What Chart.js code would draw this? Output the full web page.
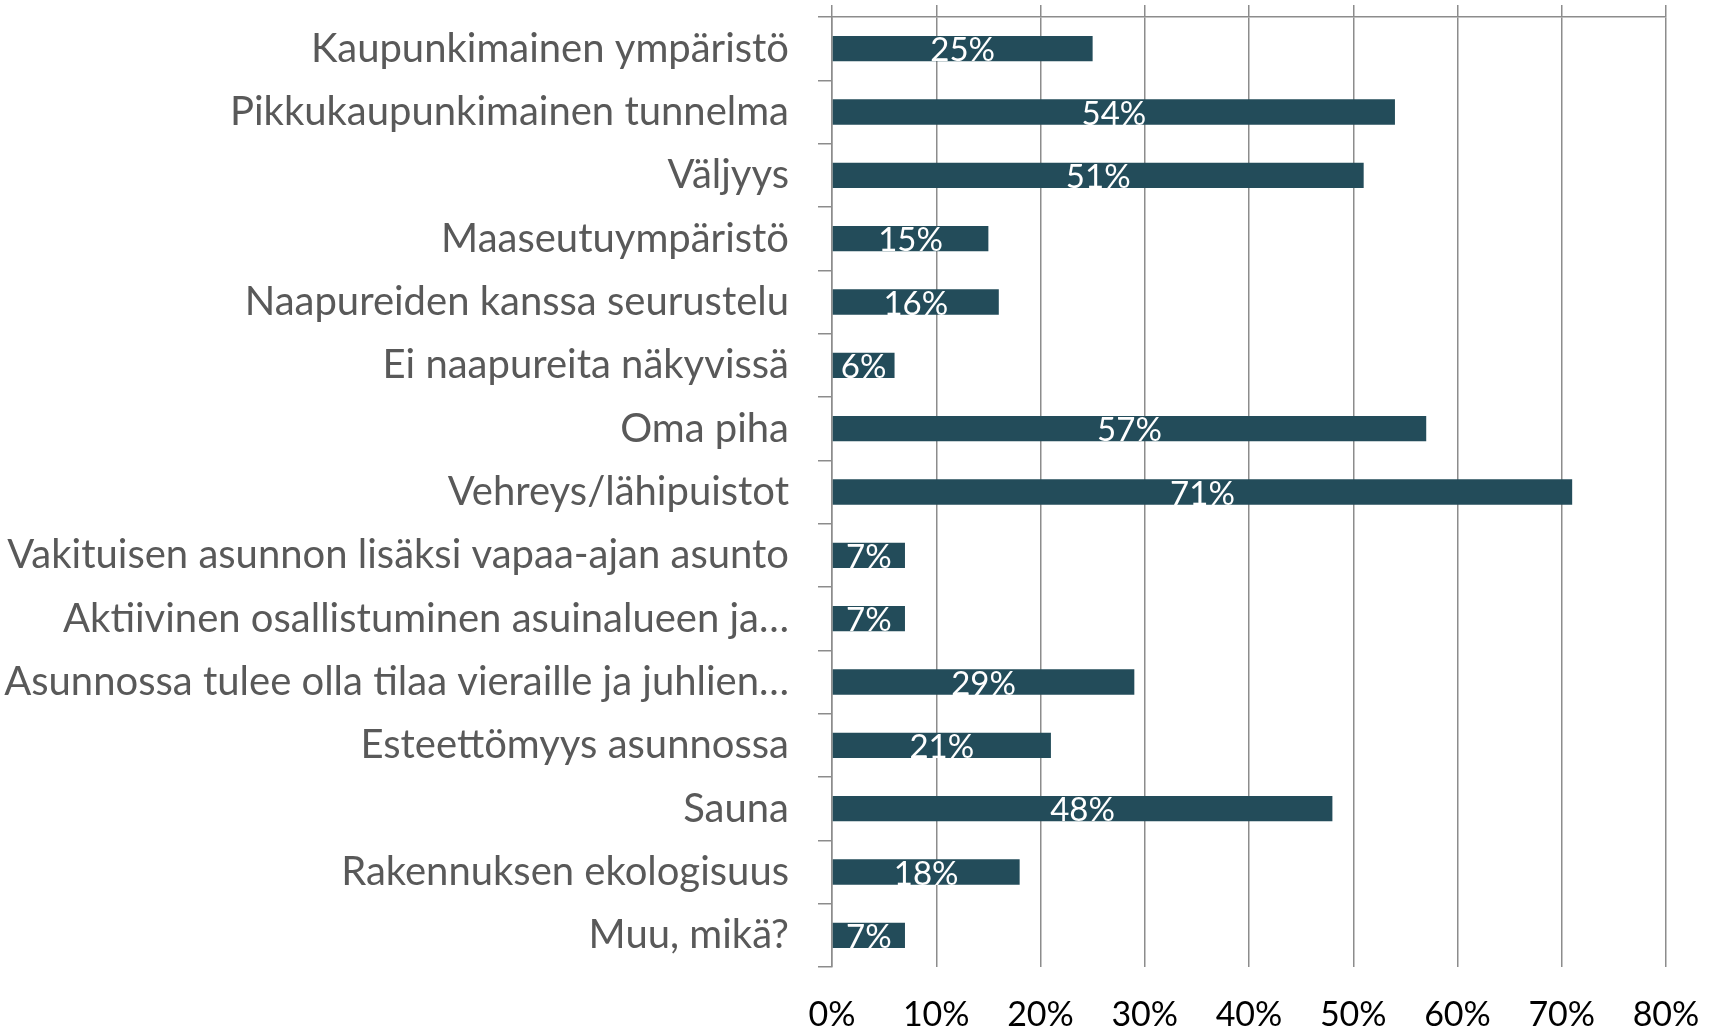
<!DOCTYPE html>
<html>
<head>
<meta charset="utf-8">
<script src="https://cdn.jsdelivr.net/npm/chart.js@4.4.0/dist/chart.umd.min.js"></script>
<style>
  body { margin: 0; background: #fff; }
  #wrap { width: 1718px; height: 1030px; }
</style>
</head>
<body>
<div id="wrap"><canvas id="myChart" width="1718" height="1030"></canvas></div>
<script>
// categories, top to bottom
const labels = [
  'Kaupunkimainen ympäristö',
  'Pikkukaupunkimainen tunnelma',
  'Väljyys',
  'Maaseutuympäristö',
  'Naapureiden kanssa seurustelu',
  'Ei naapureita näkyvissä',
  'Oma piha',
  'Vehreys/lähipuistot',
  'Vakituisen asunnon lisäksi vapaa-ajan asunto',
  'Aktiivinen osallistuminen asuinalueen ja…',
  'Asunnossa tulee olla tilaa vieraille ja juhlien…',
  'Esteettömyys asunnossa',
  'Sauna',
  'Rakennuksen ekologisuus',
  'Muu, mikä?'
];
const values = [25, 54, 51, 15, 16, 6, 57, 71, 7, 7, 29, 21, 48, 18, 7];
const axisMin = 0;
const axisMax = 80;
const axisStep = 10;

const FONT = 'Lato, "Open Sans", sans-serif';
const GRID = '#8c8c8c';

// draws the percentage on each bar
const barLabels = {
  id: 'barLabels',
  afterDatasetsDraw(chart) {
    const ctx = chart.ctx;
    const meta = chart.getDatasetMeta(0);
    ctx.save();
    ctx.fillStyle = '#ffffff';
    ctx.font = '33px ' + FONT;
    ctx.textAlign = 'center';
    ctx.textBaseline = 'middle';
    meta.data.forEach(function (bar, i) {
      ctx.fillText(values[i] + '%', (bar.x + bar.base) / 2, bar.y + 2);
    });
    ctx.restore();
  }
};

const ctx = document.getElementById('myChart').getContext('2d');

const config = {
  type: 'bar',
  data: {
    labels: labels,
    datasets: [
      {
        data: values,
        backgroundColor: '#234c5a',
        borderWidth: 0,
        barPercentage: 0.8,
        categoryPercentage: 0.5,
        xAxisID: 'x'
      }
    ]
  },
  options: {
    responsive: false,
    animation: false,
    indexAxis: 'y',
    layout: {
      padding: { top: 5, right: 52, left: 0, bottom: 0 }
    },
    plugins: {
      legend: { display: false },
      tooltip: { enabled: false }
    },
    scales: {
      x: {
        position: 'top',
        min: axisMin,
        max: axisMax,
        ticks: { display: false, stepSize: axisStep },
        grid: { color: GRID, lineWidth: 1.5, tickLength: 12 },
        border: { display: true, color: GRID, width: 1.5 },
        afterFit: function (scale) { scale.paddingLeft = 0; scale.paddingRight = 0; }
      },
      xb: {
        position: 'bottom',
        min: axisMin,
        max: axisMax,
        grid: { display: false, drawTicks: false },
        border: { display: false },
        ticks: {
          stepSize: axisStep,
          padding: 28,
          color: '#000000',
          font: { family: FONT, size: 34 },
          callback: function (v) { return v + '%'; }
        },
        afterFit: function (scale) {
          scale.height = 63;
          scale.paddingLeft = 0;
          scale.paddingRight = 0;
        }
      },
      y: {
        position: 'left',
        ticks: {
          color: '#595959',
          padding: 29,
          autoSkip: false,
          font: { family: FONT, size: 40 }
        },
        grid: { drawOnChartArea: false, color: GRID, lineWidth: 1.5, tickLength: 14, offset: true },
        border: { display: true, color: GRID, width: 1.5 },
        afterFit: function (scale) {
          scale.width = 832;
          scale.paddingTop = 0;
          scale.paddingBottom = 0;
        }
      }
    }
  },
  plugins: [barLabels]
};

const chart = new Chart(ctx, config);
</script>
</body>
</html>
